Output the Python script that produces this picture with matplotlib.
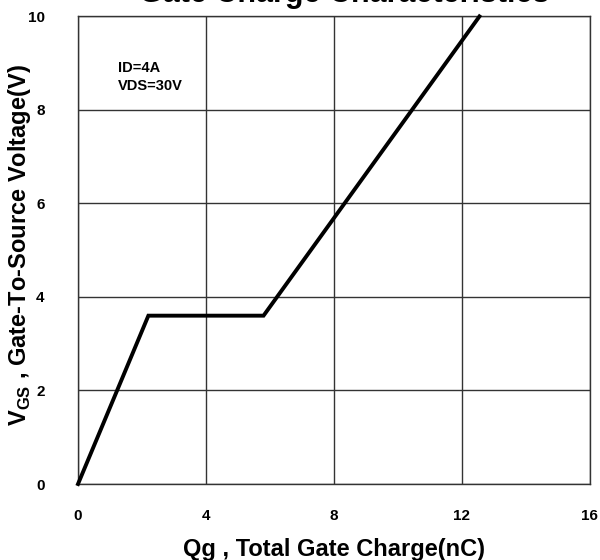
import matplotlib
matplotlib.use("Agg")
import matplotlib.pyplot as plt

qg = [0, 2.2, 5.8, 12.55]
vgs = [0, 3.6, 3.6, 10]
xticks = [0, 4, 8, 12, 16]
yticks = [0, 2, 4, 6, 8, 10]

plt.rcParams['font.family'] = ['Liberation Sans', 'DejaVu Sans']
plt.rcParams['mathtext.fontset'] = 'custom'
plt.rcParams['mathtext.bf'] = 'Liberation Sans:bold'
plt.rcParams['mathtext.rm'] = 'Liberation Sans'

fig = plt.figure(figsize=(6, 5.6), dpi=100)
ax = fig.add_axes([0.13, 0.1357, 0.853, 0.835])
ax.plot(qg, vgs, color='black', lw=2.8, solid_joinstyle='miter', clip_on=False, zorder=3)
ax.set_xlim(0, 16)
ax.set_ylim(0, 10)
ax.set_xticks(xticks)
ax.set_yticks(yticks)
ax.set_xticklabels([str(t) for t in xticks], fontweight='bold', fontsize=11)
ax.set_yticklabels([str(t) for t in yticks], fontweight='bold', fontsize=11)
ax.tick_params(length=0, pad=24)
ax.tick_params(axis='x', pad=18)
ax.grid(True, color='#333333', lw=1.0)
for s in ax.spines.values():
    s.set_color('#333333')
    s.set_linewidth(1.0)
ax.set_xlabel('Qg , Total Gate Charge(nC)', fontweight='bold', fontsize=17, labelpad=11)
ax.set_ylabel(r'V$_{\mathbf{GS}}$ , Gate-To-Source Voltage(V)', fontweight='bold', fontsize=17)
ax.yaxis.set_label_coords(-0.088, 0.51)
ax.text(0.078, 0.905, 'ID=4A\nVDS=30V', transform=ax.transAxes, fontweight='bold',
        fontsize=10.5, va='top', ha='left', linespacing=1.4)
fig.text(0.573, 0.997, 'Gate Charge Characteristics', fontweight='bold', fontsize=22,
         ha='center', va='baseline')
fig.savefig('out.png', dpi=100)
